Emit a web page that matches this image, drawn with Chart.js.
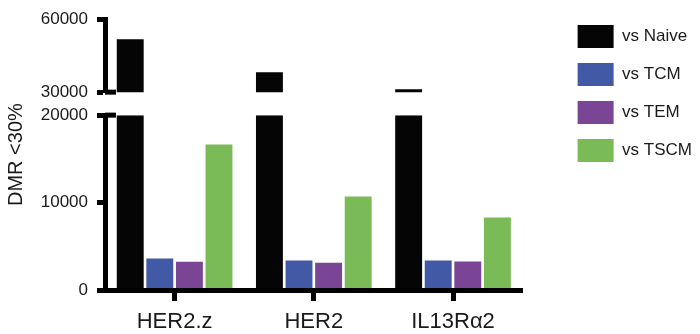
<!DOCTYPE html>
<html>
<head>
<meta charset="utf-8">
<script src="https://cdn.jsdelivr.net/npm/chart.js@4"></script>
<style>
  html, body { margin: 0; padding: 0; background: #fff; }
  #wrap { width: 700px; height: 334px; position: relative; }
</style>
</head>
<body>
<div id="wrap"><canvas id="c"></canvas></div>
<script>
// Categories and series
const categories = ['HER2.z', 'HER2', 'IL13Rα2'];
const seriesNames = ['vs Naive', 'vs TCM', 'vs TEM', 'vs TSCM'];
const naive = [51800, 38200, 31200];
const tcm = [3600, 3370, 3370];
const tem = [3220, 3110, 3260];
const tscm = [16630, 10690, 8290];

// Tick values for the two segments of the broken y axis
const lowerTicks = [0, 10000, 20000];
const upperTicks = [30000, 60000];

const colors = ['#050505', '#4259a5', '#7a4595', '#7abb57'];
const FONT = "'Liberation Sans', Arial, Helvetica, sans-serif";
const lowerMax = lowerTicks[lowerTicks.length - 1];

// Short marks on both sides of the axis break
const axisBreak = {
  id: 'axisBreak',
  afterDatasetsDraw(chart) {
    const {ctx, chartArea} = chart;
    const top = chart.scales.yTop, bot = chart.scales.yBot;
    ctx.save();
    ctx.strokeStyle = '#000';
    ctx.lineWidth = 5;
    [top.getPixelForValue(top.min), bot.getPixelForValue(bot.max)].forEach(y => {
      ctx.beginPath();
      ctx.moveTo(chartArea.left, y);
      ctx.lineTo(chartArea.left + 11, y);
      ctx.stroke();
    });
    ctx.restore();
  }
};

// Moves the legend block away from the plot
const legendOffset = {
  id: 'legendOffset',
  afterLayout(chart) {
    const lg = chart.legend;
    if (!lg) return;
    const dx = 40;
    lg.left += dx; lg.right += dx;
  }
};

const valueAxis = (ticks, extra) => Object.assign({
  type: 'linear',
  position: 'left',
  stack: 'y',
  min: ticks[0],
  max: ticks[ticks.length - 1],
  afterBuildTicks: s => { s.ticks = ticks.map(v => ({value: v})); },
  afterFit: s => { s.width = 77; },
  grid: { drawOnChartArea: false, tickLength: 8, tickWidth: 5, tickColor: '#000' },
  border: { display: true, color: '#000', width: 5, z: 1 },
  ticks: {
    color: '#1a1a1a',
    padding: 9,
    font: { family: FONT, size: 17 },
    callback: v => String(v)
  }
}, extra);

new Chart(document.getElementById('c'), {
  type: 'bar',
  data: {
    labels: categories,
    datasets: [
      { label: seriesNames[0], data: naive.map(v => Math.min(v, lowerMax)), backgroundColor: colors[0], yAxisID: 'yBot', stack: 'naive' },
      { label: seriesNames[1], data: tcm, backgroundColor: colors[1], yAxisID: 'yBot', stack: 'tcm' },
      { label: seriesNames[2], data: tem, backgroundColor: colors[2], yAxisID: 'yBot', stack: 'tem' },
      { label: seriesNames[3], data: tscm, backgroundColor: colors[3], yAxisID: 'yBot', stack: 'tscm' },
      { label: seriesNames[0], data: naive, backgroundColor: colors[0], yAxisID: 'yTop', stack: 'naive' }
    ]
  },
  options: {
    responsive: true,
    maintainAspectRatio: false,
    animation: false,
    layout: { padding: { left: 4, top: 10, right: 38, bottom: 0 } },
    datasets: { bar: { categoryPercentage: 0.85, barPercentage: 0.91 } },
    scales: {
      x: {
        type: 'category',
        offset: true,
        afterFit: s => { s.height = 44; },
        grid: { drawOnChartArea: false, offset: false, tickLength: 11, tickWidth: 5, tickColor: '#000' },
        border: { display: true, color: '#000', width: 5, z: 1 },
        ticks: { color: '#1a1a1a', padding: 8, font: { family: FONT, size: 22 } }
      },
      yTop: valueAxis(upperTicks, { stackWeight: 73, weight: 3 }),
      yGap: { type: 'linear', position: 'left', stack: 'y', stackWeight: 23, weight: 2, display: false },
      yBot: valueAxis(lowerTicks, { stackWeight: 175, weight: 1 })
    },
    plugins: {
      tooltip: { enabled: false },
      title: {
        display: true,
        position: 'left',
        fullSize: false,
        text: 'DMR <30%',
        color: '#1a1a1a',
        padding: { top: 0, bottom: 0 },
        font: { family: FONT, size: 20, weight: 'normal' }
      },
      legend: {
        position: 'right',
        align: 'start',
        maxWidth: 200,
        labels: {
          boxWidth: 36,
          boxHeight: 23,
          padding: 15,
          color: '#1a1a1a',
          font: { family: FONT, size: 17 },
          filter: (item, data) => data.datasets[item.datasetIndex].yAxisID !== 'yTop'
        }
      }
    }
  },
  plugins: [axisBreak, legendOffset]
});
</script>
</body>
</html>
